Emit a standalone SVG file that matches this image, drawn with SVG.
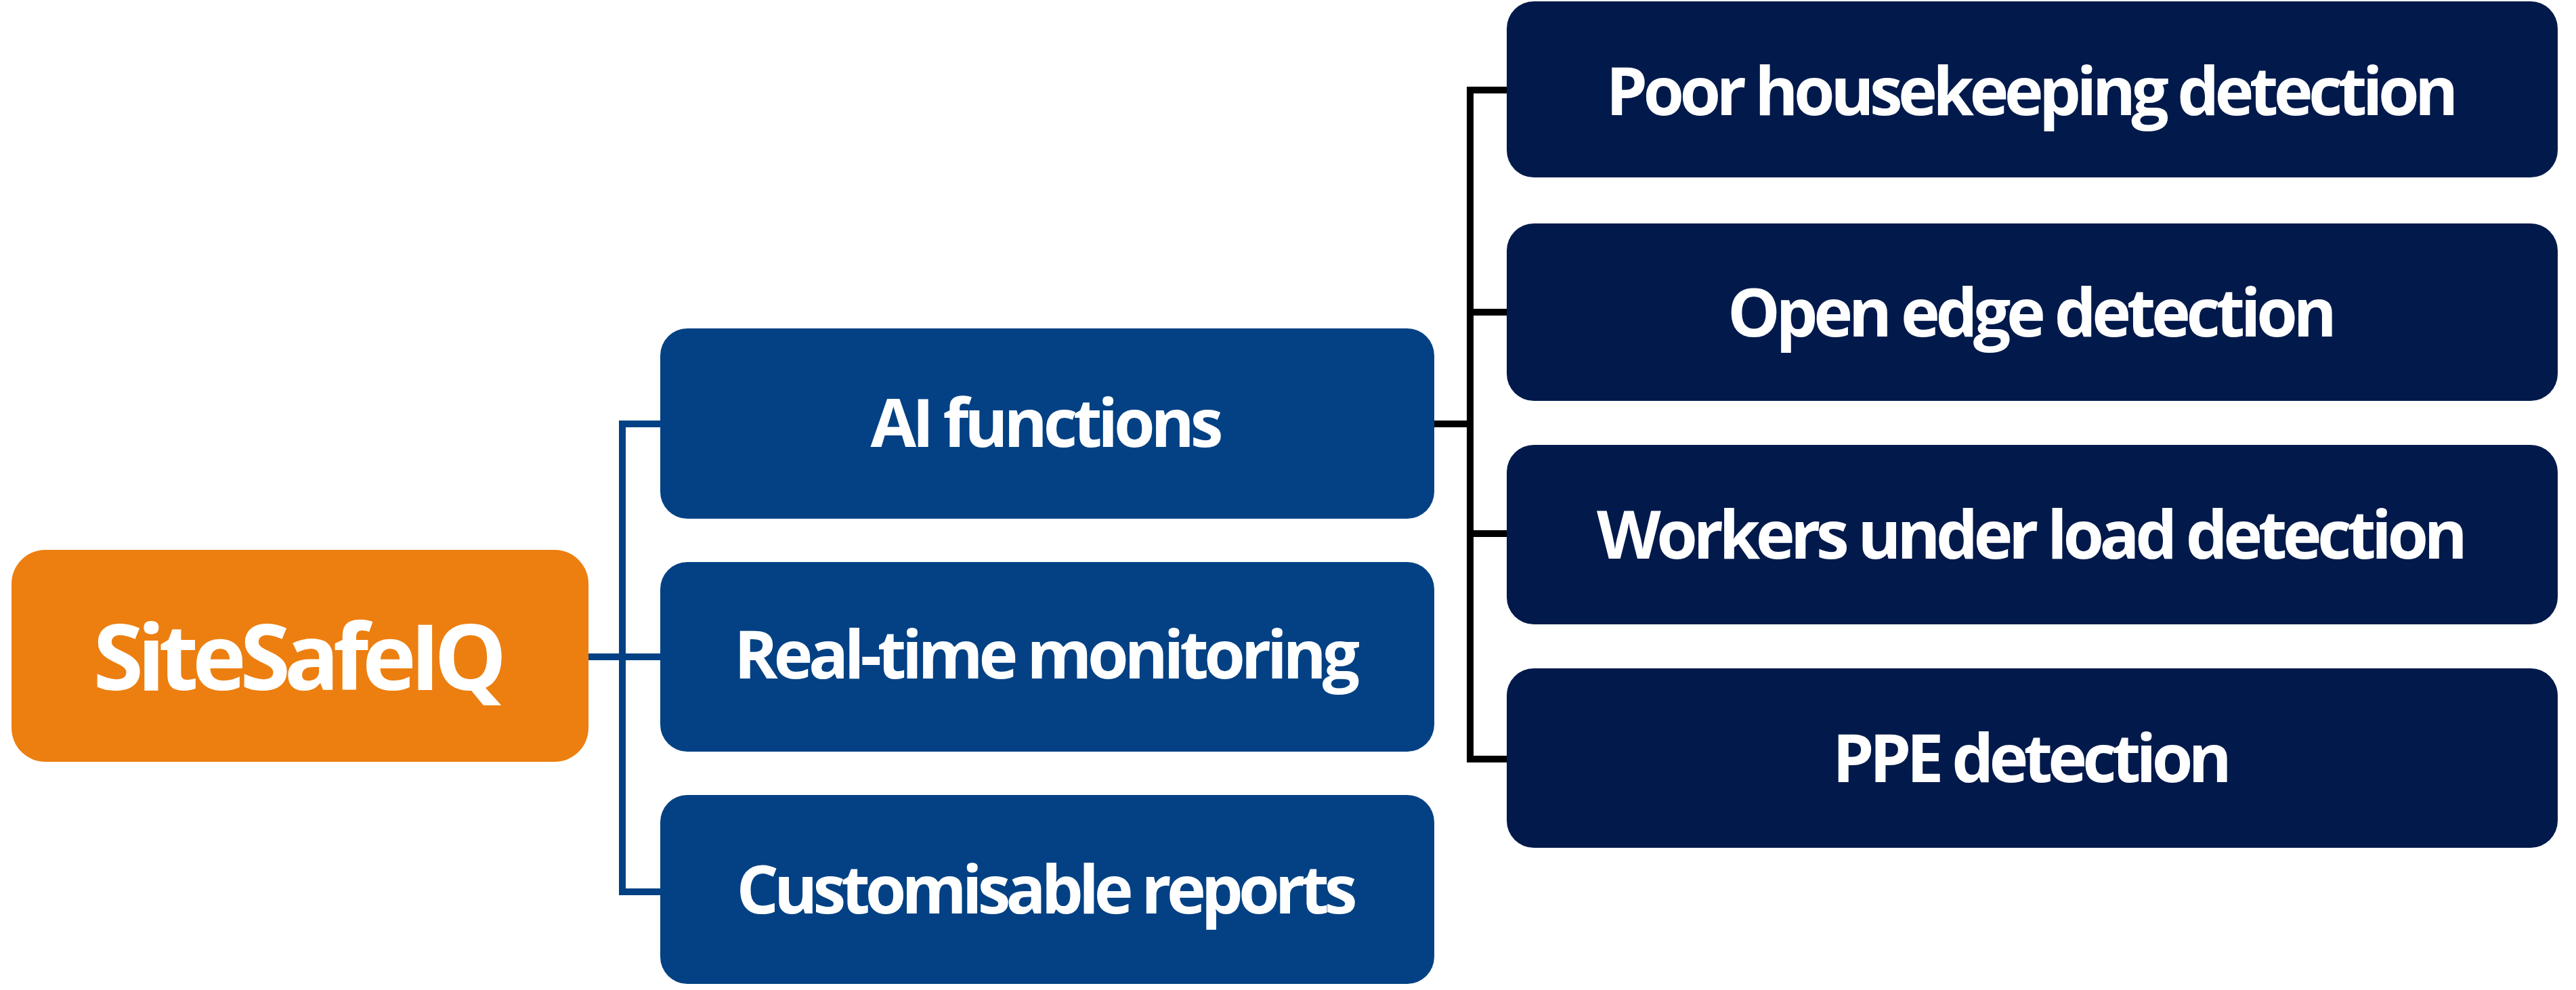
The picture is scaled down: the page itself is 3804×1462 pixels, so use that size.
<svg xmlns="http://www.w3.org/2000/svg" width="3804" height="1462" viewBox="0 0 3804 1462">
<style>
.t{font-family:"Open Sans","Liberation Sans",sans-serif;font-weight:bold;fill:#fff;text-anchor:middle}
.m{fill:#034184}
.r{fill:#011a4b}
.c{fill:none;stroke-width:10}
</style>
<rect width="3804" height="1462" fill="#fff"/>
<g id="connectors">
<path class="c" stroke="#034184" d="M869 970H919M975 626H919V1317H975M919 970H975"/>
<path class="c" stroke="#000" d="M2118 626H2171M2225 133H2171V1121H2225M2171 461H2225M2171 788H2225"/>
</g>
<g id="root"><rect x="17" y="812" width="852" height="313" rx="50" fill="#ec7f10"/><text class="t" x="443" y="1019" font-size="135" textLength="611">SiteSafeIQ</text></g>
<g id="ai"><rect class="m" x="975" y="485" width="1143" height="281" rx="40"/><text class="t" x="1546" y="660" font-size="98" textLength="521">AI functions</text></g>
<g id="rt"><rect class="m" x="975" y="830" width="1143" height="280" rx="40"/><text class="t" x="1546" y="1002" font-size="98" textLength="924">Real-time monitoring</text></g>
<g id="cr"><rect class="m" x="975" y="1174" width="1143" height="279" rx="40"/><text class="t" x="1546" y="1349" font-size="98" textLength="917">Customisable reports</text></g>
<g id="p1"><rect class="r" x="2225" y="2" width="1552" height="260" rx="40"/><text class="t" x="3001" y="170" font-size="98" textLength="1259">Poor housekeeping detection</text></g>
<g id="p2"><rect class="r" x="2225" y="330" width="1552" height="262" rx="40"/><text class="t" x="3001" y="497" font-size="98" textLength="900">Open edge detection</text></g>
<g id="p3"><rect class="r" x="2225" y="657" width="1552" height="265" rx="40"/><text class="t" x="3001" y="825" font-size="98" textLength="1286">Workers under load detection</text></g>
<g id="p4"><rect class="r" x="2225" y="987" width="1552" height="265" rx="40"/><text class="t" x="3001" y="1155" font-size="98" textLength="590">PPE detection</text></g>
</svg>
